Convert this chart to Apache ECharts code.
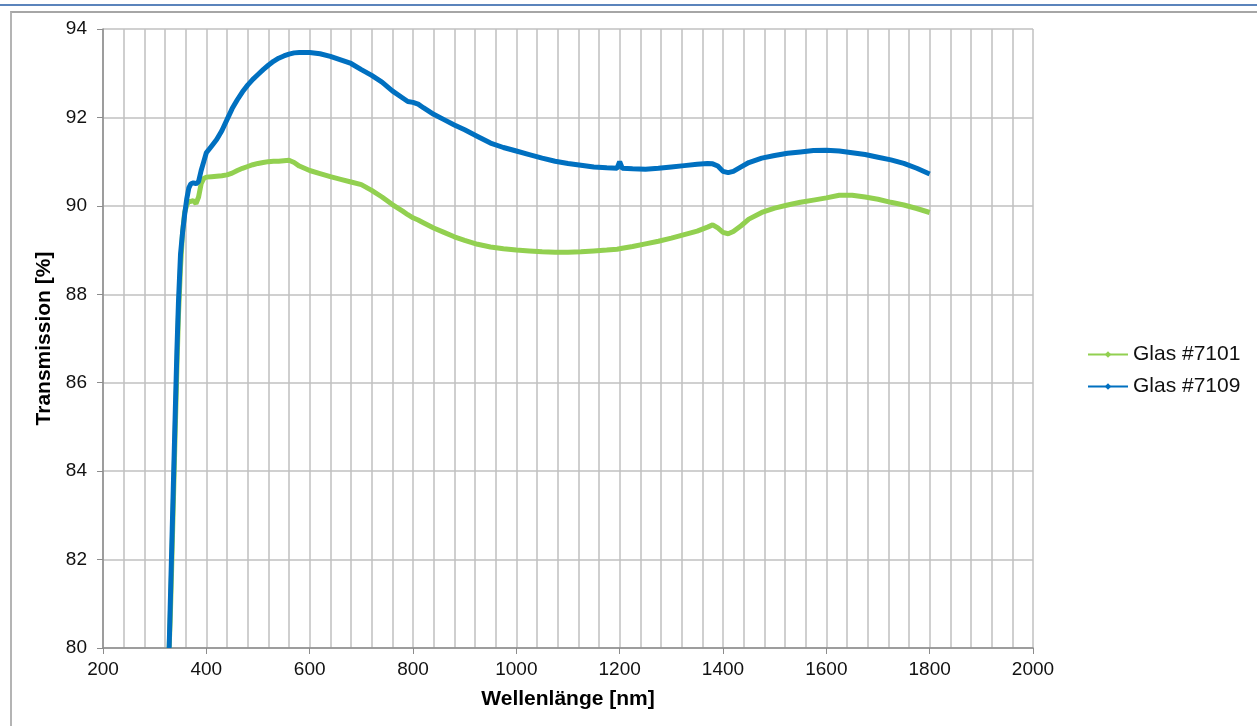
<!DOCTYPE html>
<html>
<head>
<meta charset="utf-8">
<script src="https://cdn.jsdelivr.net/npm/echarts@6/dist/echarts.min.js"></script>
<style>
html,body{margin:0;padding:0;background:#fff;}
#topline{position:absolute;left:0;top:4px;width:1257px;height:2px;background:#5b84bc;}
#frame{position:absolute;left:10px;top:11px;width:1247px;height:715px;border-top:2px solid #a6a6a6;border-left:2px solid #b4b4b4;box-sizing:border-box;}
#chart{position:absolute;left:0;top:0;width:1257px;height:726px;}
</style>
</head>
<body>
<div id="topline"></div>
<div id="frame"></div>
<div id="chart"></div>
<script>
const wavelengths = [328,330,332,334,336,338,340,343,346,350,354,358,362,366,370,375,380,385,390,395,400,410,420,430,440,450,460,470,480,490,500,510,520,530,540,550,560,570,580,590,600,620,640,660,680,700,720,740,760,780,790,800,810,820,840,860,880,900,925,950,975,1000,1025,1050,1075,1100,1125,1150,1175,1195,1200,1205,1225,1250,1275,1300,1325,1350,1370,1380,1390,1400,1410,1420,1435,1450,1475,1500,1525,1550,1575,1600,1625,1650,1675,1700,1725,1750,1775,1800];
const glas7109 = [80.0,80.9,81.8,82.7,83.6,84.5,85.4,86.7,87.8,88.9,89.4,89.8,90.15,90.4,90.5,90.52,90.5,90.55,90.8,91.0,91.2,91.35,91.5,91.7,91.95,92.2,92.4,92.58,92.73,92.86,92.97,93.08,93.18,93.27,93.34,93.39,93.43,93.46,93.47,93.47,93.47,93.44,93.38,93.3,93.22,93.08,92.95,92.8,92.6,92.44,92.36,92.34,92.3,92.22,92.07,91.95,91.83,91.72,91.57,91.42,91.32,91.24,91.16,91.08,91.01,90.96,90.92,90.88,90.86,90.85,91.0,90.85,90.84,90.83,90.85,90.88,90.91,90.94,90.96,90.95,90.9,90.78,90.75,90.78,90.88,90.98,91.08,91.14,91.19,91.22,91.25,91.26,91.24,91.2,91.16,91.1,91.04,90.96,90.85,90.72];
const glas7101 = [80.0,80.6,81.4,82.3,83.2,84.1,85.0,86.3,87.5,88.6,89.4,89.85,90.02,90.1,90.1,90.12,90.05,90.2,90.5,90.62,90.65,90.66,90.67,90.68,90.7,90.74,90.8,90.85,90.89,90.93,90.96,90.98,91.0,91.01,91.01,91.02,91.03,90.98,90.9,90.85,90.8,90.73,90.66,90.6,90.54,90.48,90.35,90.2,90.03,89.88,89.8,89.73,89.68,89.62,89.5,89.4,89.3,89.22,89.13,89.07,89.03,89.0,88.98,88.96,88.95,88.95,88.96,88.98,89.0,89.02,89.03,89.04,89.08,89.14,89.2,89.27,89.35,89.43,89.52,89.57,89.5,89.4,89.37,89.42,89.55,89.7,89.85,89.95,90.02,90.08,90.13,90.18,90.24,90.24,90.2,90.15,90.08,90.02,89.94,89.85];
const seriesNames = ['Glas #7101','Glas #7109'];
const seriesColors = ['#92d050','#0070c0'];
const xTitle = 'Wellenlänge [nm]';
const yTitle = 'Transmission [%]';

const pairs = vals => wavelengths.map((w,i)=>[w, vals[i]]);
const chart = echarts.init(document.getElementById('chart'));
const font = 'Liberation Sans, Arial, sans-serif';
chart.setOption({
  animation:false,
  grid:{left:103, top:29, right:224, bottom:78},
  legend:{
    orient:'vertical', left:1082, top:339, itemWidth:40, itemHeight:8, itemGap:11,
    textStyle:{fontFamily:font, fontSize:21, color:'#111'},
    data:seriesNames
  },
  xAxis:{
    type:'value', min:200, max:2000, interval:200,
    name:xTitle, nameLocation:'middle', nameGap:41,
    nameTextStyle:{fontFamily:font, fontSize:21, fontWeight:'bold', color:'#000'},
    axisLine:{show:true, lineStyle:{color:'#8c8c8c', width:1.5}},
    axisTick:{show:true, length:6, lineStyle:{color:'#8c8c8c'}},
    axisLabel:{fontFamily:font, fontSize:19, color:'#111', margin:12, formatter:v=>String(v)},
    splitLine:{show:true, lineStyle:{color:'#c0c0c0', width:1.5}},
    minorTick:{show:false, splitNumber:5},
    minorSplitLine:{show:true, lineStyle:{color:'#c0c0c0', width:1.5}}
  },
  yAxis:{
    type:'value', min:80, max:94, interval:2,
    name:yTitle, nameLocation:'middle', nameGap:47,
    nameTextStyle:{fontFamily:font, fontSize:21, fontWeight:'bold', color:'#000'},
    axisLine:{show:true, lineStyle:{color:'#8c8c8c', width:1.5}},
    axisTick:{show:true, length:6, lineStyle:{color:'#8c8c8c'}},
    axisLabel:{fontFamily:font, fontSize:19, color:'#111', margin:16},
    splitLine:{show:true, lineStyle:{color:'#c0c0c0', width:1.5}}
  },
  series:seriesNames.map((n,k)=>({
    name:n, type:'line',
    data:pairs(k===0?glas7101:glas7109),
    symbol:'diamond', symbolSize:5, showSymbol:false,
    lineStyle:{color:seriesColors[k], width:5},
    itemStyle:{color:seriesColors[k]},
    clip:true
  }))
});
</script>
</body>
</html>
